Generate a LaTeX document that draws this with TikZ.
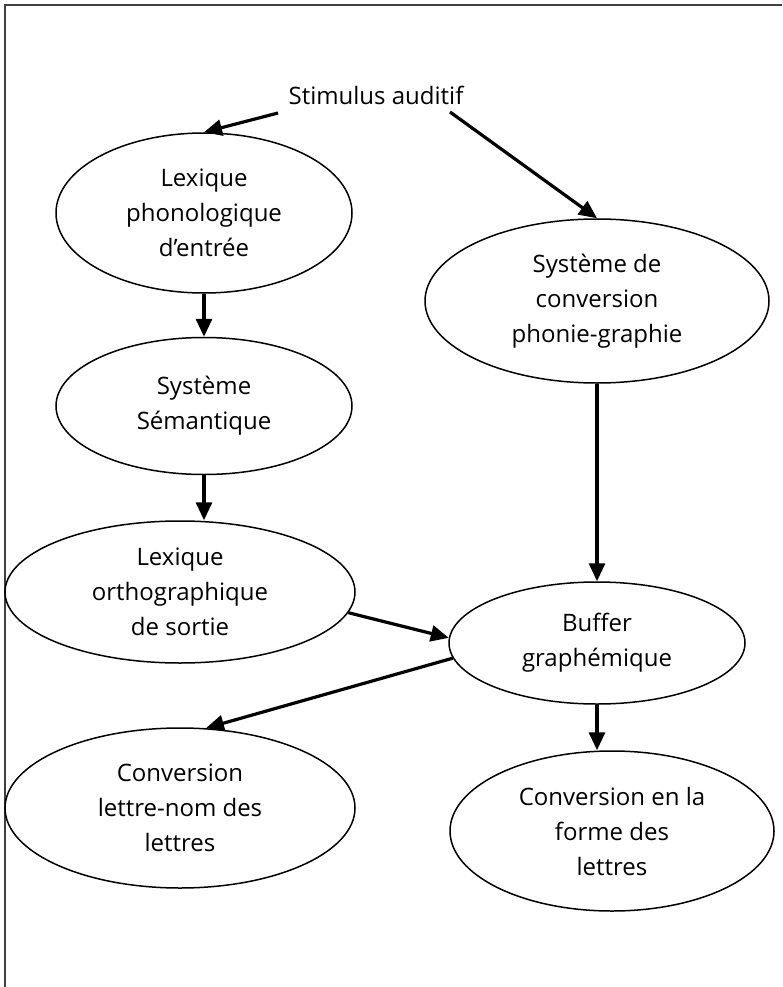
\documentclass[tikz,border=0pt]{standalone}
\usepackage{fontspec}
\setmainfont{Open Sans}
\usetikzlibrary{shapes,arrows.meta,calc}

\begin{document}
\begin{tikzpicture}[x=1pt,y=-1pt,
  bulle/.style={ellipse,draw,line width=1.5pt,inner sep=0pt,align=center,
    font=\fontsize{24}{35}\selectfont},
  fleche/.style={line width=3.2pt,-{Triangle[length=18pt,width=16pt]}}]
  \useasboundingbox (0,0) rectangle (782,987);
  \draw[line width=1.5pt,black!75] (5,987) -- (5,5) -- (782,5);
  % stimulus
  \node[font=\fontsize{24}{35}\selectfont] (stim) at (376,95) {Stimulus auditif};
  \coordinate (sg) at (278,113);
  \coordinate (sd) at (450,112);
  % voie lexicale
  \node[bulle,minimum width=296pt,minimum height=160pt] (lex) at (204,213) {Lexique\\phonologique\\d'entrée};
  \node[bulle,minimum width=296pt,minimum height=137pt] (sem) at (204,406) {Système\\Sémantique};
  \node[bulle,minimum width=350pt,minimum height=142pt] (orth) at (180,592) {Lexique\\orthographique\\de sortie};
  % voie sous-lexicale
  \node[bulle,minimum width=344pt,minimum height=164pt] (conv) at (597,301) {Système de\\conversion\\phonie-graphie};
  \node[bulle,minimum width=296pt,minimum height=122pt] (buf) at (597,643) {Buffer\\graphémique};
  % sorties
  \node[bulle,minimum width=350pt,minimum height=160pt] (nom) at (180,808) {Conversion\\lettre-nom des\\lettres};
  \node[bulle,minimum width=324pt,minimum height=160pt] (forme) at (612,831) {Conversion en la\\forme des\\lettres};
  % fleches
  \draw[fleche] (sg) -- (lex.north);
  \draw[fleche] (sd) -- (conv.north);
  \draw[fleche] (lex.south) -- (sem.north);
  \draw[fleche] (sem.south) -- (sem.south |- orth.north);
  \draw[fleche] (conv.south) -- (buf.north);
  \draw[fleche] (orth.-7) -- (buf.178);
  \draw[fleche] (buf.186) -- (nom.72);
  \draw[fleche] (buf.south) -- (buf.south |- forme.north);
\end{tikzpicture}
\end{document}
